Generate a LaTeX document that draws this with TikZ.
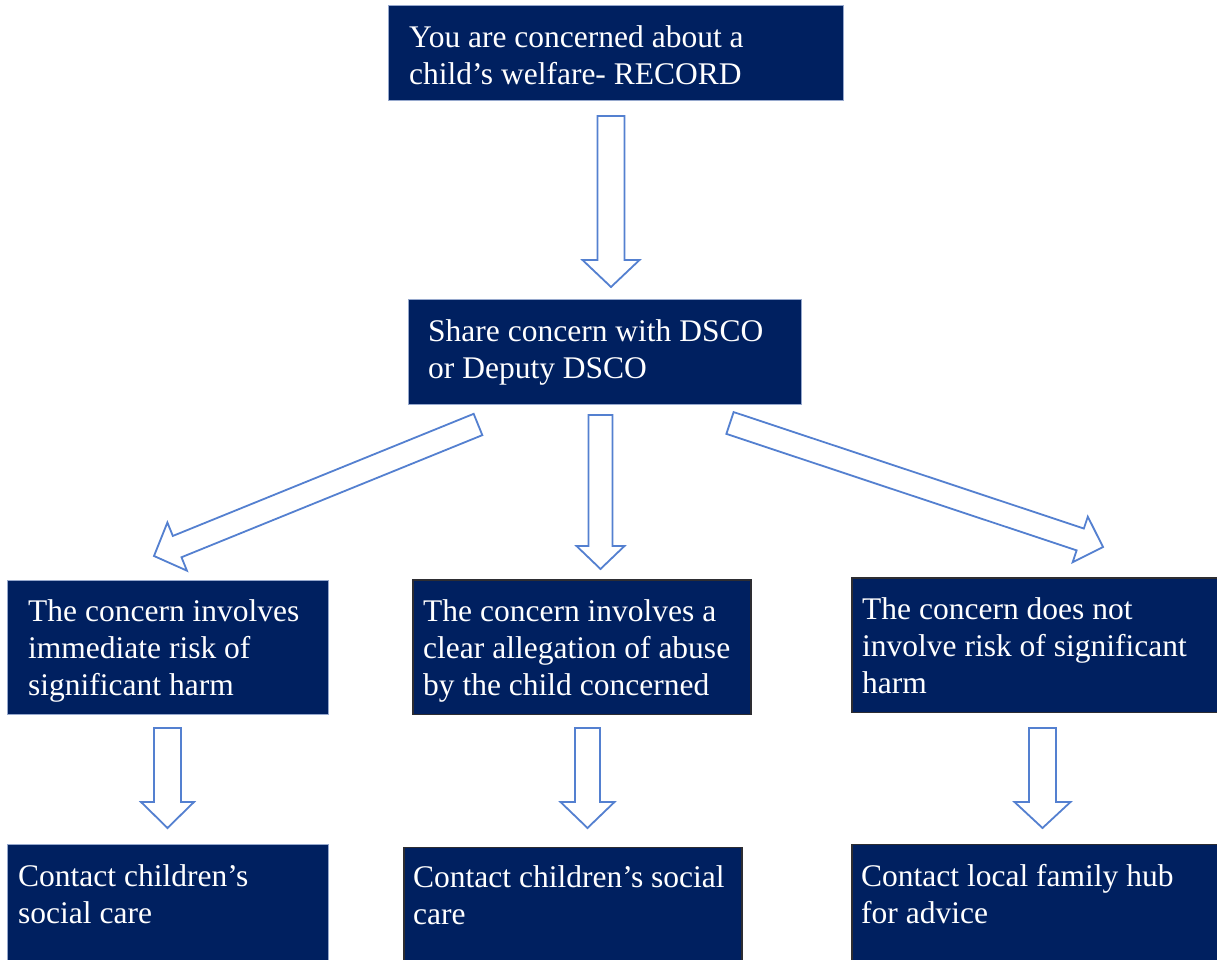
\documentclass[tikz,border=0pt]{standalone}
\usepackage{fontspec}
\setmainfont{Liberation Serif}
\newfontfamily\boxfont{Liberation Serif}
\usetikzlibrary{calc}
\definecolor{navy}{RGB}{0,32,96}
\definecolor{arrblue}{RGB}{84,128,208}
\definecolor{edgeA}{RGB}{150,168,205}
\definecolor{edgeB}{RGB}{45,45,50}
\newcommand{\blockarrow}[5]{%
  \coordinate (hb) at ($(#2)!#5!(#1)$);
  \draw[barrow] ($(#1)!#3!90:(#2)$) -- ($(hb)!#3!90:(#2)$) -- ($(hb)!#4!90:(#2)$) -- (#2)
    -- ($(hb)!#4!-90:(#2)$) -- ($(hb)!#3!-90:(#2)$) -- ($(#1)!#3!-90:(#2)$) -- cycle;}
\tikzset{
  boxa/.style={fill=navy, draw=edgeA, line width=0.8pt, anchor=south west, inner sep=0pt},
  boxb/.style={fill=navy, draw=edgeB, line width=1.5pt, anchor=south west, inner sep=0pt},
  txt/.style={text=white, anchor=north west, inner sep=0pt, align=left,
    font=\boxfont\fontsize{31.5}{37}\selectfont},
  barrow/.style={draw=arrblue, fill=white, line width=1.8pt, line join=miter}
}
\begin{document}
\begin{tikzpicture}[x=1pt,y=1pt]
\useasboundingbox[fill=white] (0,0) rectangle (1217,959);
% boxes
\node[boxa, minimum width=455pt, minimum height=95pt] (b1) at (388,858) {};
\node[boxa, minimum width=393pt, minimum height=105pt] (b2) at (408,554) {};
\node[boxa, minimum width=321pt, minimum height=134pt] (b3) at (7,244) {};
\node[boxb, minimum width=338pt, minimum height=134pt] (b4) at (412,244) {};
\node[boxb, minimum width=370pt, minimum height=134pt] (b5) at (851,246) {};
\node[boxa, minimum width=321pt, minimum height=120pt] (b6) at (7,-6) {};
\node[boxb, minimum width=338pt, minimum height=120pt] (b7) at (403,-9) {};
\node[boxb, minimum width=370pt, minimum height=120pt] (b8) at (851,-6) {};
% texts
\node[txt] (t1) at ($(b1.north west)+(21,-16)$) {\strut You are concerned about a\\child’s welfare- RECORD};
\node[txt] (t2) at ($(b2.north west)+(20,-16)$) {\strut Share concern with DSCO\\or Deputy DSCO};
\node[txt] (t3) at ($(b3.north west)+(21,-15)$) {\strut The concern involves\\immediate risk of\\significant harm};
\node[txt] (t4) at ($(b4.north west)+(11,-16)$) {\strut The concern involves a\\clear allegation of abuse\\by the child concerned};
\node[txt] (t5) at ($(b5.north west)+(11,-16)$) {\strut The concern does not\\involve risk of significant\\harm};
\node[txt] (t6) at ($(b6.north west)+(11,-16)$) {\strut Contact children’s\\social care};
\node[txt] (t7) at ($(b7.north west)+(10,-15)$) {\strut Contact children’s social\\care};
\node[txt] (t8) at ($(b8.north west)+(10,-17)$) {\strut Contact local family hub\\for advice};
% arrow end points
\coordinate (a1s) at (611,843);   \coordinate (a1e) at (611,672);
\coordinate (a2s) at (600.5,544); \coordinate (a2e) at (600.5,390);
\coordinate (a3s) at (478,534.5); \coordinate (a3e) at (154,403);
\coordinate (a4s) at (730,536);   \coordinate (a4e) at (1103,412);
\coordinate (a5s) at (167.5,231); \coordinate (a5e) at (167.5,131);
\coordinate (a6s) at (587.5,231); \coordinate (a6e) at (587.5,131);
\coordinate (a7s) at (1042.5,231);\coordinate (a7e) at (1042.5,131);
% block arrows
\blockarrow{a1s}{a1e}{13.5pt}{28.5pt}{27pt}
\blockarrow{a2s}{a2e}{12pt}{24pt}{23pt}
\blockarrow{a3s}{a3e}{11.5pt}{26pt}{25pt}
\blockarrow{a4s}{a4e}{11.5pt}{24pt}{24pt}
\blockarrow{a5s}{a5e}{13.5pt}{26.5pt}{26pt}
\blockarrow{a6s}{a6e}{12.5pt}{27pt}{26pt}
\blockarrow{a7s}{a7e}{13.5pt}{28pt}{26pt}
\end{tikzpicture}
\end{document}
